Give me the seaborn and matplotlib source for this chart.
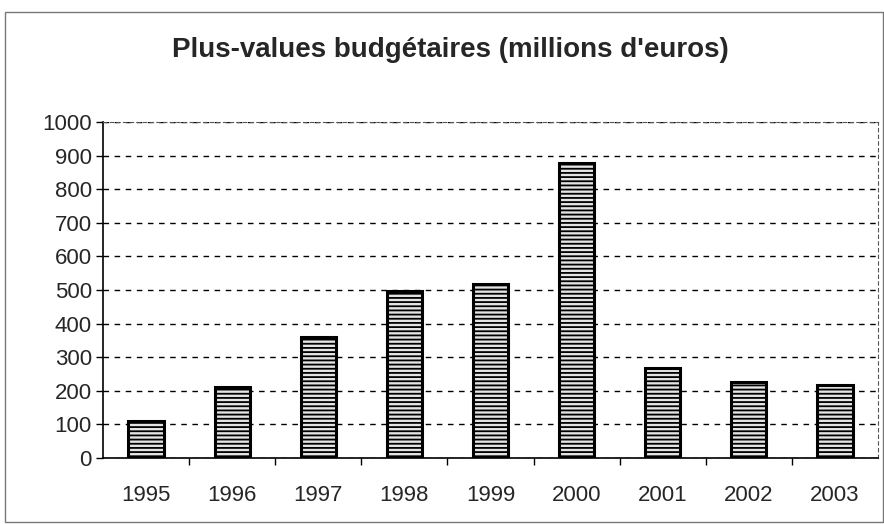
import matplotlib
matplotlib.use("Agg")
import matplotlib.pyplot as plt
import seaborn as sns
import pandas as pd
from matplotlib.patches import Rectangle

years = ["1995", "1996", "1997", "1998", "1999", "2000", "2001", "2002", "2003"]
values = [110, 211, 360, 497, 517, 877, 267, 226, 217]
yticks = [0, 100, 200, 300, 400, 500, 600, 700, 800, 900, 1000]

sns.set_style("white")
plt.rcParams["font.family"] = ["Liberation Sans", "DejaVu Sans"]
plt.rcParams["hatch.color"] = "#9a9a9a"
plt.rcParams["hatch.linewidth"] = 1.3

df = pd.DataFrame({"year": years, "value": values})

fig = plt.figure(figsize=(8.84, 5.24), dpi=100)
ax = fig.add_axes([103 / 884, 66 / 524, 775 / 884, 336 / 524])

sns.barplot(data=df, x="year", y="value", ax=ax, color="#e4e4e4",
            width=0.41, edgecolor="black", linewidth=2.2, saturation=1)
for p in ax.patches:
    p.set_hatch("----")
    p.set_zorder(3)

ax.set_ylim(0, 1000)
ax.set_xlim(-0.5, 8.5)
ax.set_yticks(yticks)
ax.set_yticklabels([str(v) for v in yticks], fontsize=16)
ax.set_xticks(range(len(years)))
ax.set_xticklabels(years, fontsize=16)
ax.set_xlabel("")
ax.set_ylabel("")

ax.yaxis.grid(True, linestyle=(0, (4, 4)), color="black", linewidth=1.0)
ax.set_axisbelow(True)

for s in ["top", "right"]:
    ax.spines[s].set_linestyle((0, (3, 3)))
    ax.spines[s].set_color("#555555")
    ax.spines[s].set_linewidth(0.8)
for s in ["left", "bottom"]:
    ax.spines[s].set_color("black")
    ax.spines[s].set_linewidth(1.2)

ax.tick_params(axis="y", which="both", left=True, length=5, width=1, color="black", pad=3)
ax.tick_params(axis="x", bottom=False, pad=16)
# minor ticks at category boundaries on x axis
ax.set_xticks([i + 0.5 for i in range(len(years) - 1)], minor=True)
ax.tick_params(axis="x", which="minor", bottom=True, length=5, width=1, color="black")

fig.text(450 / 884, 1 - 50 / 524, "Plus-values budgétaires (millions d'euros)",
         ha="center", va="center", fontsize=20, fontweight="bold")

fig.patches.append(Rectangle((5 / 884, 2 / 524), 878 / 884, 510 / 524,
                             transform=fig.transFigure, fill=False,
                             edgecolor="#777777", linewidth=1.0))

fig.savefig("out.png", dpi=100)
